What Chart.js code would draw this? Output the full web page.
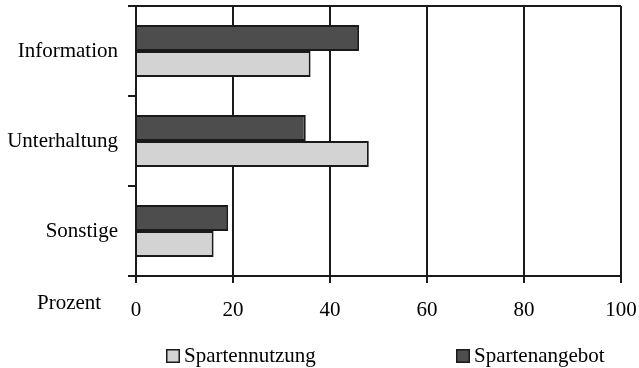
<!DOCTYPE html>
<html>
<head>
<meta charset="utf-8">
<script src="https://cdn.jsdelivr.net/npm/chart.js@4"></script>
<style>
  html, body { margin: 0; padding: 0; background: #fff; }
  #wrap { width: 639px; height: 368px; }
</style>
</head>
<body>
<div id="wrap"><canvas id="chart" width="639" height="368"></canvas></div>
<script>
const categories = ['Information', 'Unterhaltung', 'Sonstige'];
const angebot = [46, 35, 19];   // Spartenangebot (dunkel)
const nutzung = [36, 48, 16];   // Spartennutzung (hell)
const xMin = 0, xMax = 100, xStep = 20;
const xTitle = 'Prozent';

const ink = '#1a1a1a';
const font = { family: 'Liberation Serif', size: 21 };

// "Prozent" links neben den Achsenbeschriftungen + eigene Legende
const extras = {
    id: 'extras',
    afterDraw(chart) {
        const ctx = chart.ctx;
        ctx.save();
        ctx.fillStyle = '#000';
        ctx.font = '21px "Liberation Serif"';
        ctx.textBaseline = 'middle';
        ctx.textAlign = 'left';
        ctx.fillText(xTitle, 37, 303);

        // Legende: Nutzung zuerst, dann Angebot
        const items = [chart.data.datasets[1], chart.data.datasets[0]];
        const xs = [166, 456];
        const y = 356;
        items.forEach((ds, i) => {
            ctx.fillStyle = ds.backgroundColor;
            ctx.fillRect(xs[i], y - 7, 14, 14);
            ctx.strokeStyle = ink;
            ctx.lineWidth = 1.5;
            ctx.strokeRect(xs[i] + 0.75, y - 6.25, 12.5, 12.5);
            ctx.fillStyle = '#000';
            ctx.fillText(ds.label, xs[i] + 18, y);
        });
        ctx.restore();
    }
};

new Chart(document.getElementById('chart'), {
    type: 'bar',
    data: {
        labels: categories,
        datasets: [
            {
                label: 'Spartenangebot',
                data: angebot,
                backgroundColor: '#4d4d4d',
                borderColor: ink,
                borderWidth: 2
            },
            {
                label: 'Spartennutzung',
                data: nutzung,
                backgroundColor: '#d3d3d3',
                borderColor: ink,
                borderWidth: 2
            }
        ]
    },
    options: {
        indexAxis: 'y',
        responsive: false,
        animation: false,
        categoryPercentage: 0.578,
        barPercentage: 1,
        layout: { padding: { top: 6, right: 18, bottom: 40, left: 0 } },
        scales: {
            x: {
                min: xMin,
                max: xMax,
                afterFit: s => { s.height = 52; s.paddingLeft = 0; s.paddingRight = 0; },
                ticks: { stepSize: xStep, color: '#000', font: font, padding: 15, maxRotation: 0 },
                grid: { color: ink, lineWidth: 2, tickLength: 7 },
                border: { color: ink, width: 2 }
            },
            y: {
                afterFit: s => { s.width = 136; s.paddingTop = 0; s.paddingBottom = 0; },
                ticks: { color: '#000', font: font, padding: 10 },
                grid: {
                    drawOnChartArea: true,
                    color: c => (c.index === 0 ? ink : 'rgba(0,0,0,0)'),
                    tickColor: ink,
                    lineWidth: 2,
                    tickLength: 8
                },
                border: { color: ink, width: 2 }
            }
        },
        plugins: {
            legend: { display: false },
            tooltip: { enabled: false }
        }
    },
    plugins: [extras]
});
</script>
</body>
</html>
